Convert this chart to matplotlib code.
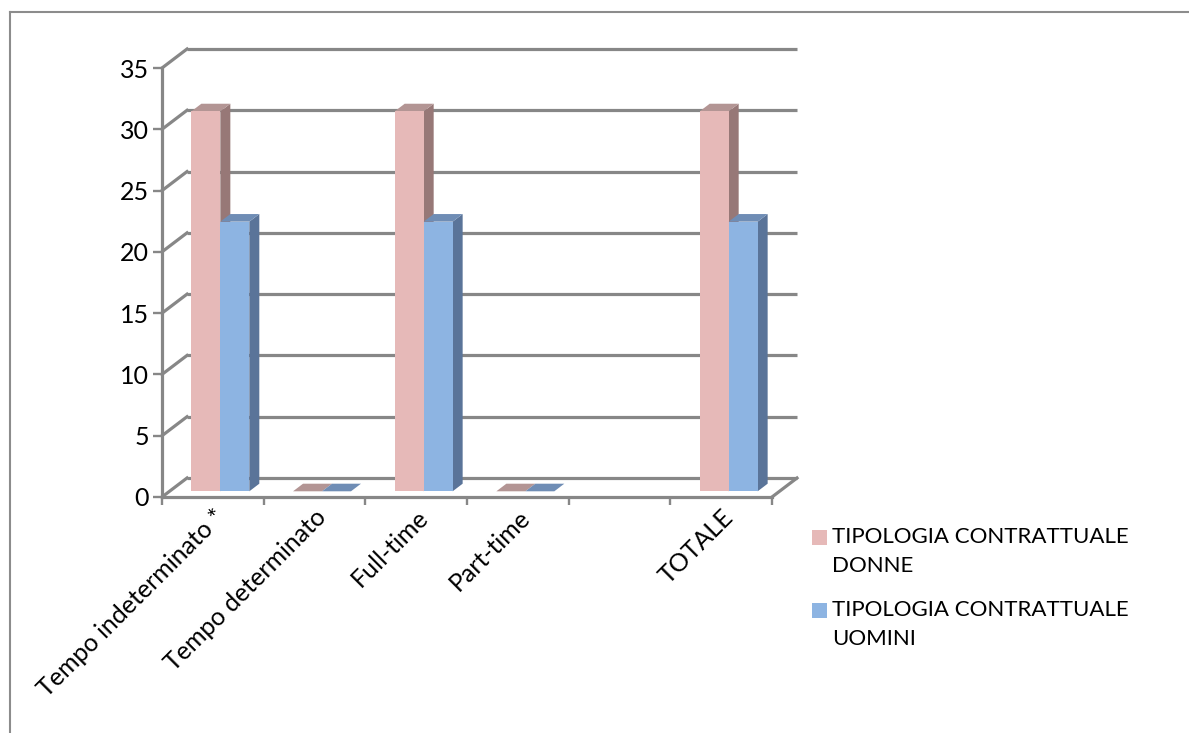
import matplotlib
matplotlib.use("Agg")
import matplotlib.pyplot as plt
from matplotlib.patches import Polygon, Rectangle
from matplotlib.lines import Line2D

# contract types (one empty slot before the total, as in the sheet)
categories = ["Tempo indeterminato *", "Tempo determinato", "Full-time", "Part-time", "", "TOTALE"]
donne = [31, 0, 31, 0, None, 31]
uomini = [22, 0, 22, 0, None, 22]
series_names = ["TIPOLOGIA CONTRATTUALE\nDONNE", "TIPOLOGIA CONTRATTUALE\nUOMINI"]
yticks = [0, 5, 10, 15, 20, 25, 30, 35]

plt.rcParams['font.family'] = ['Lato', 'DejaVu Sans']

GRID = '#878787'
colors = {
    'donne': ('#E6B9B8', '#977877', '#B39594'),   # front, side, top
    'uomini': ('#8DB4E2', '#5A7499', '#6F8DB5'),
}

W, H, DPI = 1189, 733, 100
fig = plt.figure(figsize=(W / DPI, H / DPI), dpi=DPI)
ax = fig.add_axes([162 / W, 1 - 497 / H, 610 / W, 429 / H])
ax.set_xlim(0, len(categories))
ax.set_ylim(0, 35)
ax.patch.set_visible(False)

# depth of the 3d box, in data units
DX, DY = 0.246, 1.55
n = len(categories)

# back wall gridlines and the side wall diagonals
for v in yticks:
    ax.plot([DX, n + DX], [v + DY, v + DY], color=GRID, lw=2.3, clip_on=False, zorder=1,
            solid_capstyle='butt')
    ax.plot([0, DX], [v, v + DY], color=GRID, lw=2.3, clip_on=False, zorder=1)
# right edge of the floor
ax.plot([n, n + DX], [0, DY], color=GRID, lw=2.3, clip_on=False, zorder=1)

# bars: front face via ax.bar, sides/tops as polygons
bw = 0.285
gap = (1 - 2 * bw) / 2
d0, dd = 0.3, 0.4   # depth start and depth size as fraction of the box


def bar3d(x0, h, front, side, top, z):
    x = x0 + d0 * DX
    y = d0 * DY
    ddx, ddy = dd * DX, dd * DY
    ax.add_patch(Polygon([(x + bw, y), (x + bw + ddx, y + ddy), (x + bw + ddx, y + h + ddy),
                          (x + bw, y + h)], closed=True, fc=side, ec='none', zorder=z, clip_on=False))
    ax.add_patch(Polygon([(x, y + h), (x + ddx, y + h + ddy), (x + bw + ddx, y + h + ddy),
                          (x + bw, y + h)], closed=True, fc=top, ec='none', zorder=z, clip_on=False))
    ax.bar(x, h, width=bw, bottom=y, align='edge', color=front, zorder=z, clip_on=False)


for i in range(n):
    if donne[i] is not None:
        bar3d(i + gap, donne[i], *colors['donne'], z=3)
    if uomini[i] is not None:
        bar3d(i + gap + bw, uomini[i], *colors['uomini'], z=4)

for s in ['top', 'right']:
    ax.spines[s].set_visible(False)
for s in ['left', 'bottom']:
    ax.spines[s].set_color(GRID)
    ax.spines[s].set_linewidth(2.3)
    ax.spines[s].set_zorder(2)

ax.set_yticks(yticks)
ax.tick_params(axis='y', direction='out', length=6.5, width=1.7, color=GRID,
               labelsize=18, labelcolor='black', pad=3)
ax.set_xticks(range(n + 1))
ax.set_xticklabels([])
ax.set_xticks([i + 0.5 for i in range(n)], minor=True)
ax.set_xticklabels(categories, minor=True, rotation=45, ha='right', rotation_mode='anchor',
                   fontsize=18)
ax.tick_params(axis='x', which='major', direction='out', length=6, width=1.7, color=GRID)
ax.tick_params(axis='x', which='minor', length=0, pad=6)

# legend: square aligned with the first line of each two-line label
legend_rows = [(537, colors['donne'][0]), (610, colors['uomini'][0])]
for (ytop, col), name in zip(legend_rows, series_names):
    fig.add_artist(Rectangle((812 / W, 1 - (ytop + 8) / H), 15 / W, 15 / H,
                             transform=fig.transFigure, fc=col, ec='none'))
    for k, line in enumerate(name.split('\n')):
        fig.text(832 / W, 1 - (ytop + 29 * k) / H, line, fontsize=16,
                 ha='left', va='center')

# chart area border
fig.add_artist(Line2D([10 / W, 10 / W], [0, 1 - 12 / H], transform=fig.transFigure,
                      color='#8C8C8C', lw=1.5))
fig.add_artist(Line2D([10 / W, 1], [1 - 12 / H, 1 - 12 / H], transform=fig.transFigure,
                      color='#8C8C8C', lw=1.5))

fig.savefig('out.png', dpi=DPI)
